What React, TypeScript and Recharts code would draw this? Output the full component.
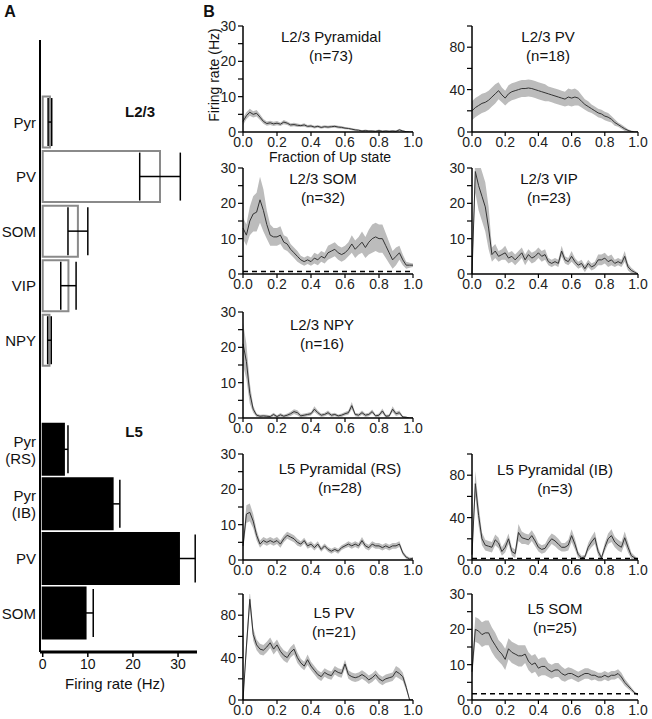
import React from 'react';
import {
  BarChart, Bar, Cell, ErrorBar, XAxis, YAxis,
  ComposedChart, Area, Line, ReferenceLine,
} from 'recharts';

// ---------- Panel A: mean firing rate per cell type ----------
const cellLabels = ['', 'Pyr', 'PV', 'SOM', 'VIP', 'NPY', '', 'Pyr\n(RS)', 'Pyr\n(IB)', 'PV', 'SOM'];
const cellLayers = ['', 'L2/3', 'L2/3', 'L2/3', 'L2/3', 'L2/3', '', 'L5', 'L5', 'L5', 'L5'];
const meanRates = [null, 1.6, 26, 7.8, 5.7, 1.5, null, 4.7, 15.5, 30.2, 9.5];
const rateErrors = [null, 0.4, 4.5, 2.2, 1.7, 0.4, null, 0.9, 1.6, 3.6, 1.7];
const rateTicks = [0, 10, 20, 30];

// ---------- Panel B: rate vs fraction of Up state ----------
const fractionTicks = [0, 0.2, 0.4, 0.6, 0.8, 1];
const fractions = Array.from({ length: 51 }, (_, i) => i / 50);

const pyr23Mean = [3.0, 4.6, 5.6, 5.0, 5.3, 4.2, 3.0, 2.4, 2.6, 2.3, 2.5, 2.2, 2.8, 2.5, 2.0, 2.1, 1.9, 1.8, 2.0, 1.6, 1.7, 1.4, 1.6, 1.3, 1.5, 1.4, 1.5, 1.6, 1.4, 1.3, 1.1, 1.0, 0.8, 0.6, 0.5, 0.3, 0.4, 0.3, 0.3, 0.2, 0.4, 0.2, 0.3, 0.2, 0.3, 0.2, 0.6, 0.3, 0.1, 0.0, 0.0];
const pyr23Sem = [1.0, 1.0, 1.0, 0.9, 0.9, 0.8, 0.7, 0.6, 0.6, 0.6, 0.6, 0.5, 0.6, 0.5, 0.5, 0.5, 0.5, 0.4, 0.5, 0.4, 0.4, 0.4, 0.4, 0.4, 0.4, 0.4, 0.4, 0.4, 0.4, 0.4, 0.3, 0.3, 0.3, 0.3, 0.3, 0.2, 0.3, 0.2, 0.2, 0.2, 0.3, 0.2, 0.2, 0.2, 0.2, 0.2, 0.3, 0.2, 0.1, 0.1, 0.1];

const pv23Mean = [20, 23, 25, 27, 28, 30, 33, 36, 39, 35, 32, 36, 38, 39, 40, 41, 41, 41.5, 41, 40, 39, 38, 37, 36, 35, 34, 33, 32, 31, 33, 32, 33, 32, 29, 26, 24, 22, 20, 18, 17, 15, 14, 12, 9, 7, 5, 3, 1.5, 0.5, 0, 0];
const pv23Sem = [9, 9, 9, 9, 9, 9, 9, 9, 8, 7, 7, 8, 8, 8, 8, 8, 8, 8, 8, 8, 8, 8, 8, 7, 7, 7, 7, 7, 7, 8, 8, 8, 7, 6, 5, 5, 4, 4, 4, 4, 4, 4, 3, 3, 2, 2, 2, 1, 1, 0.5, 0.3];

const som23Mean = [13, 11, 15, 17, 17.5, 21, 18, 14, 11, 10.5, 10.5, 11, 9, 8.5, 7, 6, 5, 4, 3.5, 4, 3.5, 4.5, 4, 5, 4.5, 6, 6.5, 7, 6, 5.5, 6, 7, 8.5, 7, 8, 9, 7.5, 9, 10, 10.5, 10, 10, 8, 6, 4, 5, 6, 4, 2.5, 2.5, 2.5];
const som23Sem = [3, 3, 4, 5, 5.5, 6.5, 6, 4, 3, 2.5, 2.5, 2.5, 2, 2, 1.5, 1.5, 1.5, 1.2, 1.2, 1.2, 1.2, 1.5, 1.5, 1.5, 1.5, 2, 2, 2, 2, 2, 2, 2, 2.5, 2.5, 2.5, 3, 3, 3.5, 4, 4, 4, 4, 3.5, 3, 2.5, 2.5, 2, 1.5, 1, 0.7, 0.5];

const vip23Mean = [0, 29, 25, 22, 19, 13, 5.5, 6.5, 5, 5.5, 6, 4.5, 5, 4, 5, 6, 4, 5.5, 4.5, 5, 6, 5, 5.5, 3.5, 3, 3.5, 3, 6.5, 4, 3.5, 5, 3.5, 2.5, 3, 1.5, 3, 2, 2.5, 4, 4, 4.5, 3.5, 4, 3, 3.5, 3, 5, 2, 1, 0.5, 0];
const vip23Sem = [0, 6, 7, 7, 7, 6, 2, 2, 1.5, 1.5, 2, 1.5, 1.5, 1.5, 1.5, 1.5, 1.5, 1.5, 1.5, 1.5, 1.5, 1.5, 1.5, 1, 1, 1, 1, 1.5, 1, 1, 1.5, 1, 1, 1, 1, 1, 1, 1, 1.5, 1.5, 1.5, 1.5, 1.5, 1, 1, 1, 1.5, 1, 0.8, 0.5, 0.3];

const npy23Mean = [21, 16, 7, 2.5, 0.8, 0.5, 0.6, 0.5, 0.4, 1.0, 0.4, 0.9, 0.5, 0.8, 1.2, 1.8, 1.5, 0.6, 0.8, 1.0, 1.2, 2.5, 1.5, 0.8, 1.0, 1.5, 0.8, 1.0, 0.6, 0.8, 1.2, 1.5, 3.5, 1.0, 0.8, 1.5, 0.8, 1.0, 1.8, 0.6, 0.8, 2.0, 0.5, 0.6, 2.5, 1.2, 1.5, 0.3, 0.2, 0, 0];
const npy23Sem = [6, 5, 3, 1, 0.5, 0.4, 0.4, 0.4, 0.4, 0.5, 0.4, 0.5, 0.4, 0.5, 0.6, 0.7, 0.7, 0.5, 0.5, 0.5, 0.5, 0.8, 0.6, 0.5, 0.5, 0.6, 0.5, 0.5, 0.4, 0.5, 0.5, 0.6, 1.0, 0.5, 0.5, 0.6, 0.5, 0.5, 0.6, 0.4, 0.5, 0.7, 0.4, 0.4, 0.8, 0.6, 0.6, 0.3, 0.2, 0.1, 0.1];

const rs5Mean = [4, 13, 13.5, 11, 7, 4.5, 5.5, 5, 5.5, 5, 5.5, 4.5, 6, 7, 6.5, 6, 5, 4.5, 5.5, 4, 4.5, 3.5, 4.5, 3, 4, 3, 2.5, 3, 2.5, 3.5, 4, 4.5, 4, 4.5, 4, 5.5, 4, 3.5, 4.5, 4, 4, 3.5, 4, 3.5, 4, 4, 4.5, 2, 0.8, 0.3, 0.5];
const rs5Sem = [1.5, 2.5, 2.5, 2, 1.5, 1, 1, 1, 1, 1, 1, 1, 1, 1, 1, 1, 1, 0.8, 0.8, 0.8, 0.8, 0.8, 0.8, 0.7, 0.7, 0.7, 0.7, 0.7, 0.7, 0.7, 0.7, 0.8, 0.8, 0.8, 0.8, 1, 0.8, 0.8, 0.8, 0.8, 0.8, 0.8, 0.8, 0.8, 0.8, 0.8, 0.8, 0.6, 0.5, 0.4, 0.3];

const ib5Mean = [5, 72, 42, 20, 14, 13, 12, 19, 16, 8, 12, 20, 8, 6, 26, 21, 20, 19, 23, 18, 12, 10, 11, 16, 20, 18, 15, 12, 12, 14, 23, 15, 5, 2, 3, 12, 17, 21, 8, 2, 12, 20, 23, 17, 14, 12, 21, 12, 4, 2, 0];
const ib5Sem = [3, 12, 10, 6, 5, 5, 5, 5, 5, 4, 5, 5, 4, 4, 8, 6, 5, 5, 5, 5, 4, 4, 4, 5, 5, 5, 5, 4, 4, 5, 6, 5, 3, 2, 2, 4, 5, 6, 4, 2, 4, 5, 6, 5, 5, 5, 6, 5, 3, 2, 1];

const pv5Mean = [0, 50, 95, 62, 52, 48, 47, 50, 54, 48, 52, 46, 42, 40, 45, 48, 40, 35, 32, 38, 32, 28, 24, 22, 26, 24, 23, 28, 26, 25, 34, 24, 22, 21, 22, 24, 22, 19, 21, 24, 20, 18, 20, 21, 22, 27, 25, 22, 12, 0, 0];
const pv5Sem = [0, 8, 8, 6, 5, 5, 5, 5, 5, 5, 5, 5, 5, 5, 5, 5, 5, 4, 4, 5, 4, 4, 4, 4, 4, 4, 4, 4, 4, 4, 4, 4, 4, 4, 4, 4, 4, 4, 4, 4, 4, 4, 4, 4, 4, 5, 5, 4, 3, 1, 0];

const som5Mean = [8, 20, 19.5, 18.5, 19, 19, 17, 15.5, 14, 13, 11.5, 14.5, 13.5, 13, 12.5, 12.5, 13, 11, 10, 10.5, 9, 9.5, 9.5, 8.5, 8, 8.5, 8.5, 7.5, 7, 7.5, 7.5, 7, 6.5, 7, 7.5, 7.5, 7, 7, 6.5, 6.5, 7, 6.5, 7, 7, 7.5, 6.5, 5, 4, 3, 2, 1.5];
const som5Sem = [2, 3.5, 3.5, 3.5, 3.5, 3.5, 3.5, 3.5, 3, 3, 3, 3, 3, 3, 3, 3, 2.5, 2.5, 2.5, 2.5, 2.5, 2.5, 2.5, 2, 2, 2, 2, 2, 1.8, 1.8, 1.5, 1.5, 1.5, 1.5, 1.5, 1.5, 1.5, 1.2, 1.2, 1.2, 1.2, 1.2, 1.2, 1.2, 1.2, 1.2, 1, 0.8, 0.6, 0.4, 0.3];

const traces = [
  { name: 'L2/3 Pyramidal', n: 73, mean: pyr23Mean, sem: pyr23Sem, yMax: 30, baseline: null },
  { name: 'L2/3 PV', n: 18, mean: pv23Mean, sem: pv23Sem, yMax: 100, baseline: null },
  { name: 'L2/3 SOM', n: 32, mean: som23Mean, sem: som23Sem, yMax: 30, baseline: 0.7 },
  { name: 'L2/3 VIP', n: 23, mean: vip23Mean, sem: vip23Sem, yMax: 30, baseline: null },
  { name: 'L2/3 NPY', n: 16, mean: npy23Mean, sem: npy23Sem, yMax: 30, baseline: null },
  { name: 'L5 Pyramidal (RS)', n: 28, mean: rs5Mean, sem: rs5Sem, yMax: 30, baseline: null },
  { name: 'L5 Pyramidal (IB)', n: 3, mean: ib5Mean, sem: ib5Sem, yMax: 100, baseline: 1.3 },
  { name: 'L5 PV', n: 21, mean: pv5Mean, sem: pv5Sem, yMax: 100, baseline: null },
  { name: 'L5 SOM', n: 25, mean: som5Mean, sem: som5Sem, yMax: 30, baseline: 1.8 },
];

// layout of the small panels (column, row, title centre)
const colLeft = [243, 472];
const colWidth = [170, 166];
const rowTop = [26, 168, 312, 454, 594];
const PLOT_H = 106;
const panelLayout = [
  { col: 0, row: 0, tx: 331, ty: 37 },
  { col: 1, row: 0, tx: 548, ty: 37 },
  { col: 0, row: 1, tx: 323, ty: 179 },
  { col: 1, row: 1, tx: 549, ty: 179 },
  { col: 0, row: 2, tx: 322, ty: 325 },
  { col: 0, row: 3, tx: 340, ty: 469 },
  { col: 1, row: 3, tx: 555, ty: 470 },
  { col: 0, row: 4, tx: 334, ty: 613 },
  { col: 1, row: 4, tx: 555, ty: 609 },
];

const FONT = '"Liberation Sans", Arial, Helvetica, sans-serif';

const TextAt = ({ x, y, children, size = 15, bold = false, w = 200 }: any) => (
  <div
    style={{
      position: 'absolute', left: x - w / 2, top: y - 9, width: w, height: 18,
      lineHeight: '18px', textAlign: 'center', fontSize: size,
      fontWeight: bold ? 'bold' : 'normal', color: '#111', whiteSpace: 'nowrap',
    }}
  >
    {children}
  </div>
);

// two-line category labels for panel A
const CellTick = (props: any) => {
  const { x, y, payload } = props;
  const lines = (cellLabels[payload.value] || '').split('\n');
  if (!lines[0]) return null;
  const top = y - ((lines.length - 1) * 17) / 2;
  return (
    <text x={x + 4} y={top} textAnchor="end" fontSize={15} fill="#111" dominantBaseline="central">
      {lines.map((l, i) => (
        <tspan key={i} x={x + 4} y={top + i * 17}>{l}</tspan>
      ))}
    </text>
  );
};

function RatePanel() {
  const rows = cellLabels.map((label, idx) => ({
    idx,
    label,
    layer: cellLayers[idx],
    rate: meanRates[idx],
    err: rateErrors[idx],
  }));
  return (
    <BarChart
      layout="vertical"
      width={220}
      height={719}
      data={rows}
      margin={{ top: 40, right: 23, bottom: 37, left: 0 }}
      barCategoryGap={2}
    >
      <XAxis
        type="number"
        domain={[-0.6, 34.2]}
        allowDataOverflow
        ticks={rateTicks}
        height={30}
        tickSize={5}
        axisLine={{ stroke: '#000', strokeWidth: 3 }}
        tickLine={{ stroke: '#000', strokeWidth: 1.5 }}
        tick={{ fontSize: 14, fill: '#111' }}
      />
      <YAxis
        type="category"
        dataKey="idx"
        width={40}
        interval={0}
        padding={{ top: 0, bottom: 12 }}
        tickLine={false}
        axisLine={{ stroke: '#000', strokeWidth: 2 }}
        tick={<CellTick />}
      />
      <Bar dataKey="rate" isAnimationActive={false}>
        {rows.map((r, i) => (
          <Cell
            key={i}
            fill={r.layer === 'L5' ? '#000' : '#fff'}
            stroke={r.layer === 'L5' ? '#000' : '#8a8a8a'}
            strokeWidth={2}
          />
        ))}
        <ErrorBar dataKey="err" direction="x" width={24} stroke="#000" strokeWidth={1.5} />
      </Bar>
    </BarChart>
  );
}

function UpStatePanel({ trace, layout }: any) {
  const data = fractions.map((f, i) => {
    const m = trace.mean[i] ?? 0;
    const s = trace.sem[i] ?? 0;
    return { f, mean: m, band: [Math.max(0, m - s), m + s] };
  });
  const yTicks = trace.yMax === 30 ? [0, 5, 10, 15, 20, 25, 30] : [0, 20, 40, 60, 80, 100];
  const labelStep = trace.yMax === 30 ? 10 : 40;
  const plotW = colWidth[layout.col];
  const left = colLeft[layout.col] - 45;
  const top = rowTop[layout.row] - 8;
  return (
    <div style={{ position: 'absolute', left, top }}>
      <ComposedChart
        width={45 + plotW + 12}
        height={8 + PLOT_H + 22}
        data={data}
        margin={{ top: 8, right: 12, bottom: 0, left: 0 }}
      >
        <XAxis
          dataKey="f"
          type="number"
          domain={[0, 1]}
          ticks={fractionTicks}
          tickFormatter={(v: number) => v.toFixed(1)}
          height={22}
          tickSize={4}
          tickMargin={1}
          axisLine={{ stroke: '#000', strokeWidth: 1.5 }}
          tickLine={{ stroke: '#000', strokeWidth: 1.2 }}
          tick={{ fontSize: 14, fill: '#222' }}
        />
        <YAxis
          type="number"
          domain={[0, trace.yMax]}
          allowDataOverflow
          ticks={yTicks}
          interval={0}
          tickFormatter={(v: number) => (v % labelStep === 0 ? String(v) : '')}
          width={45}
          tickSize={5}
          axisLine={{ stroke: '#000', strokeWidth: 1.5 }}
          tickLine={{ stroke: '#000', strokeWidth: 1.2 }}
          tick={{ fontSize: 14, fill: '#222' }}
        />
        <Area
          type="linear"
          dataKey="band"
          stroke="none"
          fill="#bcbcbc"
          fillOpacity={1}
          isAnimationActive={false}
        />
        <Line
          type="linear"
          dataKey="mean"
          stroke="#333"
          strokeWidth={1}
          dot={false}
          isAnimationActive={false}
        />
        {trace.baseline != null && (
          <ReferenceLine y={trace.baseline} stroke="#000" strokeWidth={1.5} strokeDasharray="5 4" />
        )}
      </ComposedChart>
    </div>
  );
}

export default function App() {
  return (
    <div
      style={{
        position: 'absolute', left: 0, top: 0, width: 652, height: 719,
        background: '#fff', fontFamily: FONT, overflow: 'hidden',
      }}
    >
      <div style={{ position: 'absolute', left: 0, top: 0 }}>
        <RatePanel />
      </div>
      <TextAt x={10} y={12} size={16} bold w={20}>A</TextAt>
      <TextAt x={209} y={12} size={16} bold w={20}>B</TextAt>
      <TextAt x={140} y={112} bold>L2/3</TextAt>
      <TextAt x={134} y={432} bold>L5</TextAt>
      <TextAt x={115} y={684}>Firing rate (Hz)</TextAt>

      {traces.map((t, i) => (
        <UpStatePanel key={t.name} trace={t} layout={panelLayout[i]} />
      ))}
      {traces.map((t, i) => (
        <React.Fragment key={'t' + i}>
          <TextAt x={panelLayout[i].tx} y={panelLayout[i].ty}>{t.name}</TextAt>
          <TextAt x={panelLayout[i].tx} y={panelLayout[i].ty + 19}>{`(n=${t.n})`}</TextAt>
        </React.Fragment>
      ))}

      <TextAt x={330} y={157} size={14}>Fraction of Up state</TextAt>
      <div
        style={{
          position: 'absolute', left: 214 - 60, top: 75 - 9, width: 120, height: 18,
          lineHeight: '18px', textAlign: 'center', fontSize: 14, color: '#111',
          transform: 'rotate(-90deg)', whiteSpace: 'nowrap',
        }}
      >
        Firing rate (Hz)
      </div>
    </div>
  );
}
